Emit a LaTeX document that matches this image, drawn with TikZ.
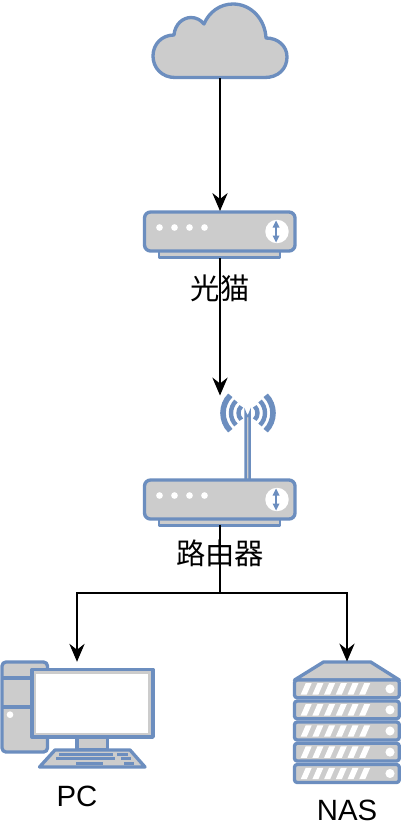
\documentclass[tikz,border=0pt]{standalone}
\usepackage{fontspec}
\setmainfont{Liberation Sans}
\newfontfamily\cjk{Noto Sans CJK SC}
\usetikzlibrary{arrows.meta}
\definecolor{icofill}{HTML}{CCCCCC}
\definecolor{icoline}{HTML}{6C8EBF}
\tikzset{
  px/.style={x=0.75pt,y=-0.75pt},
  ico/.style={draw=icoline,fill=icofill,line width=2.5pt,line join=round},
  thinico/.style={draw=icoline,fill=icofill,line width=2pt,line join=round},
  bluebar/.style={fill=icoline,draw=none},
  whitefill/.style={fill=white,draw=none},
  wave/.style={draw=icoline,line width=#1},
  box/.style={draw=none,fill=none,inner sep=0pt,outer sep=0pt,minimum width=#1},
  wire/.style={draw=black,line width=0.85pt},
  arrow/.style={wire,-{Stealth[length=13.5pt,width=11.5pt,inset=4.5pt]}},
  lab/.style={inner sep=0pt,font=\fontsize{22}{26}\selectfont},
}
\newcommand{\routerbody}[1]{%
  \begin{scope}[yshift=#1*-0.75pt]
    \draw[thinico] (159,251) rectangle (280,257.5);
    \draw[ico,rounded corners=4.5pt] (144.5,212) rectangle (295,251);
    \foreach \xx in {159.5,174.5,189.5,204.5}
      \fill[white] (\xx,227.5) circle (2.5pt);
    \fill[white] (277,231.5) circle (8.8pt);
    \draw[icoline,line width=1.7pt] (276,225) -- (276,238);
    \fill[icoline] (276,220.5) -- (279.5,227.5) -- (272.5,227.5) -- cycle;
    \fill[icoline] (276,242.5) -- (279.5,235.5) -- (272.5,235.5) -- cycle;
  \end{scope}}
\begin{document}
\begin{tikzpicture}[px]
\useasboundingbox (0,0) rectangle (401,828);
\fill[white] (0,0) rectangle (401,828);

% invisible frames of the icons
\node[box=135*0.75pt,minimum height=74*0.75pt] (cloud) at (220,41) {};
\node[box=151*0.75pt,minimum height=47*0.75pt] (modem) at (220,234.5) {};
\node[box=151*0.75pt,minimum height=129*0.75pt] (router) at (220,460) {};
\node[box=152*0.75pt,minimum height=105.5*0.75pt] (pc) at (77,714.5) {};
\node[box=106*0.75pt,minimum height=121*0.75pt] (nas) at (347,722) {};
\coordinate (split) at (220,593);

% cloud
\draw[ico] (175,77.5)
  .. controls (162,77.5) and (153,68) .. (153,56)
  .. controls (153,44) and (162,35) .. (174,35)
  .. controls (175,24) and (183,17.5) .. (191,17.5)
  .. controls (196,17.5) and (201,20) .. (204,24)
  .. controls (209,12) and (220,4) .. (233,4)
  .. controls (251,4) and (265,19) .. (266,38)
  .. controls (278,38) and (287,46) .. (287,57)
  .. controls (287,69) and (278,77.5) .. (265,77.5)
  -- cycle;

% modem
\routerbody{0}

% router
\foreach \r/\w in {9.5/3.3pt,17/3.3pt,25/4.2pt}{
  \draw[wave=\w] (248,413) ++(135:\r) arc (135:225:\r);
  \draw[wave=\w] (248,413) ++(45:\r) arc (45:-45:\r);
}
\draw[icoline,line width=1.9pt,fill=icofill] (245.6,480) -- (245.6,414) arc (180:0:2) -- (249.6,480);
\routerbody{268}

% PC
\draw[ico,rounded corners=3pt] (2,662) rectangle (47.5,752);
\draw[ico] (2,678) -- (47.5,678);
\draw[ico] (2,707) -- (47.5,707);
\fill[white] (10,714.7) circle (2.5pt);
\draw[ico] (77,737) rectangle (107.5,750);
\draw[ico] (32,669.5) rectangle (153,737);
\fill[white] (36,673.5) rectangle (148,733);
\draw[ico] (55,750) -- (130,750) -- (145,767) -- (39.5,767) -- cycle;
\fill[bluebar] (59.3,752.7) rectangle (113.3,755.7);
\fill[bluebar] (117.3,752.7) rectangle (128.3,755.7);
\fill[bluebar] (56,757.3) rectangle (115,760.3);
\fill[bluebar] (120.7,757.3) rectangle (130.7,760.3);
\fill[bluebar] (76,762) rectangle (102.7,765);
\fill[bluebar] (124,762) rectangle (134,765);

% NAS
\draw[ico] (323.5,662) -- (370.7,662) -- (399.3,680) -- (294.5,680) -- cycle;
\foreach \ya/\yb in {680/697.7,701/718.7,722/740,743.3/761,764.5/782.5}{
  \draw[ico,rounded corners=2pt] (294.5,\ya) rectangle (399.3,\yb);
  \pgfmathsetmacro{\ymid}{(\ya+\yb)/2}
  \fill[white] (390,\ymid) circle (3.4pt);
  \foreach \k in {0,...,5}{
    \pgfmathsetmacro{\xs}{300.7+11.7*\k}
    \fill[whitefill] (\xs,\ymid+5.7) -- (\xs+6,\ymid+5.7) -- (\xs+11,\ymid-5.7) -- (\xs+5,\ymid-5.7) -- cycle;
  }
}

% labels
\node[lab,font=\cjk\fontsize{22}{26}\selectfont] (modemlab) at (220,288) {光猫};
\node[lab,font=\cjk\fontsize{22}{26}\selectfont] (routerlab) at (220,553) {路由器};
\node[lab] (pclab) at (77,796) {PC};
\node[lab] (naslab) at (347,810) {NAS};

% connectors
\draw[arrow] (cloud.south) -- (modem.north);
\draw[arrow] (modem.south) -- (router.north);
\draw[wire] (router.south) -- (split);
\draw[arrow] (split) -| (pc.north);
\draw[arrow] (split) -| (nas.north);
\end{tikzpicture}
\end{document}
